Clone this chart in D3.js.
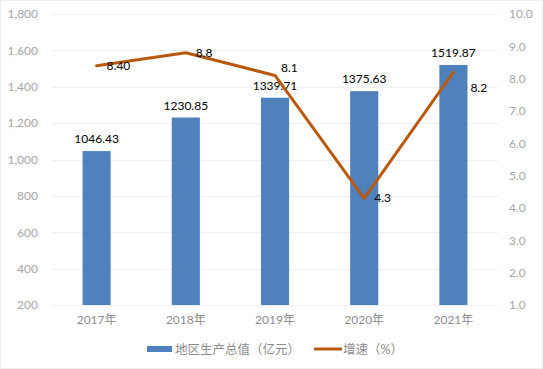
<!DOCTYPE html>
<html>
<head>
<meta charset="utf-8">
<script src="https://cdn.jsdelivr.net/npm/d3@7/dist/d3.min.js"></script>
<style>
  html, body { margin: 0; padding: 0; background: #fff; }
  text { font-family: Lato, "Noto Sans CJK SC", sans-serif; }
</style>
</head>
<body>
<div id="chart"></div>
<script>
const years = ["2017年", "2018年", "2019年", "2020年", "2021年"];
const gdp = [1046.43, 1230.85, 1339.71, 1375.63, 1519.87];
const growth = [8.4, 8.8, 8.1, 4.3, 8.2];
const growthLabels = ["8.40", "8.8", "8.1", "4.3", "8.2"];
const leftTicks = [200, 400, 600, 800, 1000, 1200, 1400, 1600, 1800];
const rightTicks = [1, 2, 3, 4, 5, 6, 7, 8, 9, 10];
const legendNames = ["地区生产总值（亿元）", "增速（%）"];

// where each growth label sits relative to its point
const labelPlace = ["right", "right", "upright", "right", "downright"];

const width = 543, height = 369;
const margin = { top: 14, right: 45, bottom: 64, left: 52 };
const chartWidth = width - margin.left - margin.right;
const chartHeight = height - margin.top - margin.bottom;

const barColor = "#4f81bd";
const lineColor = "#b85a0e";
const tickColor = "#a6a6a6";

const svg = d3.select("#chart")
  .append("svg")
  .attr("width", width)
  .attr("height", height);

svg.append("rect")
  .attr("x", 0.5).attr("y", 0.5)
  .attr("width", width - 1).attr("height", height - 1)
  .attr("fill", "#fff")
  .attr("stroke", "#eeeeee");

const g = svg.append("g")
  .attr("transform", `translate(${margin.left},${margin.top})`);

const x = d3.scaleBand()
  .domain(years)
  .range([0, chartWidth])
  .paddingInner(0.685)
  .paddingOuter(0.3425);

const xPoint = d => x(d) + x.bandwidth() / 2;

const y = d3.scaleLinear()
  .domain([200, 1800])
  .range([chartHeight, 0]);

const y2 = d3.scaleLinear()
  .domain([1, 10])
  .range([chartHeight, 0]);

// Gridlines
g.append("g")
  .selectAll("line")
  .data(leftTicks)
  .join("line")
  .attr("x1", 0)
  .attr("x2", chartWidth)
  .attr("y1", d => Math.round(y(d)) + 0.5)
  .attr("y2", d => Math.round(y(d)) + 0.5)
  .attr("stroke", "#f0f0f0");

// Axes
const leftAxis = g.append("g")
  .call(d3.axisLeft(y).tickValues(leftTicks).tickFormat(d3.format(",")).tickSize(0).tickPadding(14));
leftAxis.select(".domain").remove();
leftAxis.selectAll("text").attr("fill", tickColor).style("font-size", "12px");

const rightAxis = g.append("g")
  .attr("transform", `translate(${chartWidth},0)`)
  .call(d3.axisRight(y2).tickValues(rightTicks).tickFormat(d3.format(".1f")).tickSize(0).tickPadding(11));
rightAxis.select(".domain").remove();
rightAxis.selectAll("text").attr("fill", tickColor).style("font-size", "12px");

const bottomAxis = g.append("g")
  .attr("transform", `translate(0,${chartHeight})`)
  .call(d3.axisBottom(x).tickSize(0).tickPadding(10));
bottomAxis.select(".domain").remove();
bottomAxis.selectAll("text").attr("fill", "#8c8c8c").style("font-size", "12px");

// Bars
g.selectAll("rect.bar")
  .data(gdp)
  .join("rect")
  .attr("class", "bar")
  .attr("x", (d, i) => x(years[i]))
  .attr("y", d => y(d))
  .attr("width", x.bandwidth())
  .attr("height", d => chartHeight - y(d))
  .attr("fill", barColor);

g.selectAll("text.barlabel")
  .data(gdp)
  .join("text")
  .attr("class", "barlabel")
  .attr("x", (d, i) => xPoint(years[i]))
  .attr("y", d => y(d) - 8)
  .attr("text-anchor", "middle")
  .style("font-size", "12px")
  .attr("fill", "#000")
  .text(d => d.toFixed(2));

// Line
const line = d3.line()
  .x((d, i) => xPoint(years[i]))
  .y(d => y2(d));

g.append("path")
  .datum(growth)
  .attr("fill", "none")
  .attr("stroke", lineColor)
  .attr("stroke-width", 3)
  .attr("stroke-linejoin", "round")
  .attr("stroke-linecap", "round")
  .attr("d", line);

const offs = {
  right: [10, 4],
  upright: [6, -3],
  downright: [17, 20]
};

g.selectAll("text.linelabel")
  .data(growth)
  .join("text")
  .attr("class", "linelabel")
  .attr("x", (d, i) => xPoint(years[i]) + offs[labelPlace[i]][0])
  .attr("y", (d, i) => y2(d) + offs[labelPlace[i]][1])
  .style("font-size", "12px")
  .attr("fill", "#000")
  .text((d, i) => growthLabels[i]);

// Legend
const legend = svg.append("g")
  .attr("transform", `translate(147, 349)`);

legend.append("rect")
  .attr("x", 0).attr("y", -3)
  .attr("width", 25).attr("height", 6)
  .attr("fill", barColor);
legend.append("text")
  .attr("x", 28).attr("y", 4.5)
  .style("font-size", "12.5px")
  .attr("fill", "#8c8c8c")
  .text(legendNames[0]);

legend.append("line")
  .attr("x1", 167).attr("x2", 195)
  .attr("y1", 0).attr("y2", 0)
  .attr("stroke", lineColor)
  .attr("stroke-width", 3);
legend.append("text")
  .attr("x", 196).attr("y", 4.5)
  .style("font-size", "12.5px")
  .attr("fill", "#8c8c8c")
  .text(legendNames[1]);
</script>
</body>
</html>
